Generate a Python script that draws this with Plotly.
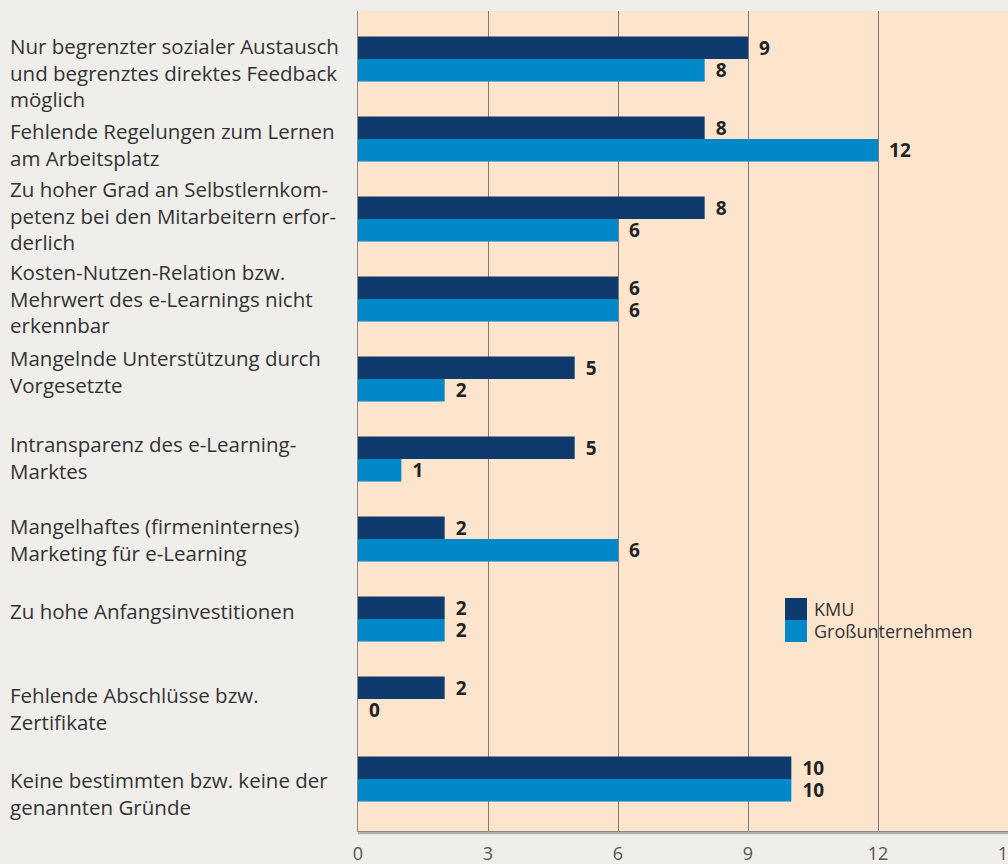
import plotly.graph_objects as go

categories = [
    "Nur begrenzter sozialer Austausch<br>und begrenztes direktes Feedback<br>möglich",
    "Fehlende Regelungen zum Lernen<br>am Arbeitsplatz",
    "Zu hoher Grad an Selbstlernkom-<br>petenz bei den Mitarbeitern erfor-<br>derlich",
    "Kosten-Nutzen-Relation bzw.<br>Mehrwert des e-Learnings nicht<br>erkennbar",
    "Mangelnde Unterstützung durch<br>Vorgesetzte",
    "Intransparenz des e-Learning-<br>Marktes",
    "Mangelhaftes (firmeninternes)<br>Marketing für e-Learning",
    "Zu hohe Anfangsinvestitionen",
    "Fehlende Abschlüsse bzw.<br>Zertifikate",
    "Keine bestimmten bzw. keine der<br>genannten Gründe",
]
kmu = [9, 8, 8, 6, 5, 5, 2, 2, 2, 10]
gross = [8, 12, 6, 6, 2, 1, 6, 2, 0, 10]
series_names = ["KMU", "Großunternehmen"]
x_ticks = [0, 3, 6, 9, 12, 15]

DARK = "#0e3a6e"
LIGHT = "#0088c9"
FONT = "Open Sans"
W, H = 1008, 864
ML, MR, MT, MB = 358, 0, 11, 33
PW = W - ML - MR
PH = H - MT - MB

ypos = list(range(len(categories)))

fig = go.Figure()
for name, vals, col in [(series_names[0], kmu, DARK), (series_names[1], gross, LIGHT)]:
    fig.add_trace(go.Bar(
        y=ypos, x=vals, orientation="h", name=name,
        marker=dict(color=col, line=dict(width=0)),
        text=["\u00a0\u2009" + str(v) for v in vals], textposition="outside",
        constraintext="none",
        textfont=dict(family=FONT, size=19, color="#222222", weight="bold"),
        cliponaxis=False, showlegend=False,
    ))

# category labels (left-aligned)
yshifts = [-13.5, -5.5, 3.5, 1, 7.5, 2, 0, 8, -9.5, -14.5]
for i, lab in enumerate(categories):
    fig.add_annotation(
        x=-(ML - 10) / PW, xref="paper", y=ypos[i], yref="y",
        text=lab, showarrow=False, xanchor="left", yanchor="middle", align="left",
        yshift=yshifts[i], xshift=-2,
        font=dict(family=FONT, size=20.5, color="#333333"),
    )

# legend swatches
sq = 22
lx0 = (785 - ML) / PW
for j, (name, col) in enumerate([(series_names[0], DARK), (series_names[1], LIGHT)]):
    top = 598 + j * sq
    y1 = 1 - (top - MT) / PH
    y0 = 1 - (top + sq - MT) / PH
    fig.add_shape(type="rect", xref="paper", yref="paper",
                  x0=lx0, x1=lx0 + sq / PW, y0=y0, y1=y1,
                  fillcolor=col, line=dict(width=0), layer="above")
    fig.add_annotation(x=(815 - ML) / PW, xref="paper", y=(y0 + y1) / 2, yref="paper",
                       text=name, showarrow=False, xanchor="left", yanchor="middle",
                       xshift=-3,
                       font=dict(family=FONT, size=18, color="#333333"))

# shadow below plot area
fig.add_shape(type="line", xref="paper", yref="paper", x0=0, x1=1, y0=-0.002, y1=-0.002,
              line=dict(color="rgba(0,0,0,0.25)", width=3), layer="below")

fig.update_layout(
    width=W, height=H,
    margin=dict(l=ML, r=MR, t=MT, b=MB, autoexpand=False),
    paper_bgcolor="#efeeea",
    plot_bgcolor="#fde5cd",
    barmode="group", bargap=0.4375, bargroupgap=0,
    font=dict(family=FONT, color="#333333"),
    xaxis=dict(range=[0, 15], tickvals=x_ticks, ticktext=[str(t) for t in x_ticks],
               showgrid=True, gridcolor="#7a7a7a", gridwidth=1, zeroline=False,
               showline=True, linecolor="#8a8a8a", linewidth=1, mirror=False,
               automargin=False,
               ticks="", ticklabelstandoff=6, ticklabeloverflow="allow",
               tickfont=dict(family=FONT, size=18, color="#555555")),
    yaxis=dict(range=[9.65, -0.6], showticklabels=False, showgrid=False, automargin=False,
               zeroline=False, showline=True, linecolor="#8a8a8a", linewidth=1),
)

fig.write_html("out.html", config={"displayModeBar": False},
               post_script="document.body.style.margin='0';document.body.style.overflow='hidden';")
